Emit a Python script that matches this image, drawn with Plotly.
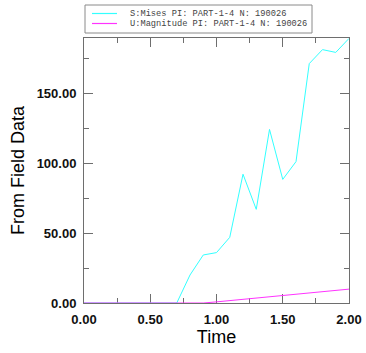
import plotly.graph_objects as go

# ---- data ----
time = [0.0, 0.1, 0.2, 0.3, 0.4, 0.5, 0.6, 0.7, 0.8, 0.9, 1.0,
        1.1, 1.2, 1.3, 1.4, 1.5, 1.6, 1.7, 1.8, 1.9, 2.0]
mises = [0, 0, 0, 0, 0, 0, 0, 0, 20.0, 34.3, 36.0,
         46.9, 92.0, 66.9, 124.0, 88.3, 101.0, 171.0, 181.0, 179.0, 189.0]
umag = [0, 0, 0, 0, 0, 0, 0, 0, 0, 0, 0.8,
        1.7, 2.6, 3.5, 4.5, 5.4, 6.3, 7.2, 8.1, 9.0, 9.9]
legend_labels = ["S:Mises PI: PART-1-4 N: 190026",
                 "U:Magnitude PI: PART-1-4 N: 190026"]
colors = ["#33FFFF", "#FF33FF"]

fig = go.Figure()
fig.add_trace(go.Scatter(x=time, y=mises, mode="lines", name=legend_labels[0],
                         line=dict(color=colors[0], width=1)))
fig.add_trace(go.Scatter(x=time, y=umag, mode="lines", name=legend_labels[1],
                         line=dict(color=colors[1], width=1)))

# plot area in pixels: x 84..349, y 38..303
PW, PH = 265.0, 265.0
def px(X):
    return (X - 84) / PW
def py(Y):
    return (303 - Y) / PH

# manual legend box
shapes = [dict(type="rect", xref="paper", yref="paper",
               x0=px(85), x1=px(312), y0=py(33), y1=py(5),
               line=dict(color="#8a8a8a", width=1), fillcolor="white")]
annotations = []
for i, (lab, col) in enumerate(zip(legend_labels, colors)):
    yl = 13.5 + 10 * i
    shapes.append(dict(type="line", xref="paper", yref="paper",
                       x0=px(92), x1=px(117), y0=py(yl), y1=py(yl),
                       line=dict(color=col, width=1.2)))
    annotations.append(dict(xref="paper", yref="paper", x=px(128), y=py(yl + 0.8),
                            xanchor="left", yanchor="middle", showarrow=False,
                            text=lab, font=dict(family="Liberation Mono", size=8.7,
                                                color="#444444")))

axis_common = dict(showgrid=False, zeroline=False, showline=True,
                   linecolor="#6e6e6e", linewidth=1, mirror="ticks",
                   ticks="inside", ticklen=9, tickcolor="#6e6e6e", tickwidth=1,
                   layer="below traces", ticklabelstandoff=4)

fig.update_layout(
    width=366, height=353,
    margin=dict(l=84, r=17, t=38, b=50, pad=0),
    paper_bgcolor="white", plot_bgcolor="white",
    showlegend=False,
    shapes=shapes, annotations=annotations,
    xaxis=dict(range=[0, 2], tickmode="linear", tick0=0, dtick=0.5, tickformat=".2f",
               minor=dict(dtick=0.25, ticks="inside", ticklen=5, tickcolor="#6e6e6e"),
               tickfont=dict(family="Liberation Sans", size=13, color="#111111", weight="bold"),
               title=dict(text="Time", font=dict(family="Liberation Sans", size=18, color="#000000"),
                          standoff=2),
               automargin=False, **axis_common),
    yaxis=dict(range=[0, 189.3], tickmode="linear", tick0=0, dtick=50, tickformat=".2f",
               minor=dict(dtick=25, ticks="inside", ticklen=5, tickcolor="#6e6e6e"),
               tickfont=dict(family="Liberation Sans", size=13, color="#111111", weight="bold"),
               title=dict(text="From Field Data", font=dict(family="Liberation Sans", size=18, color="#000000"),
                          standoff=7),
               automargin=False, **axis_common),
)

fig.write_html("out.html")
